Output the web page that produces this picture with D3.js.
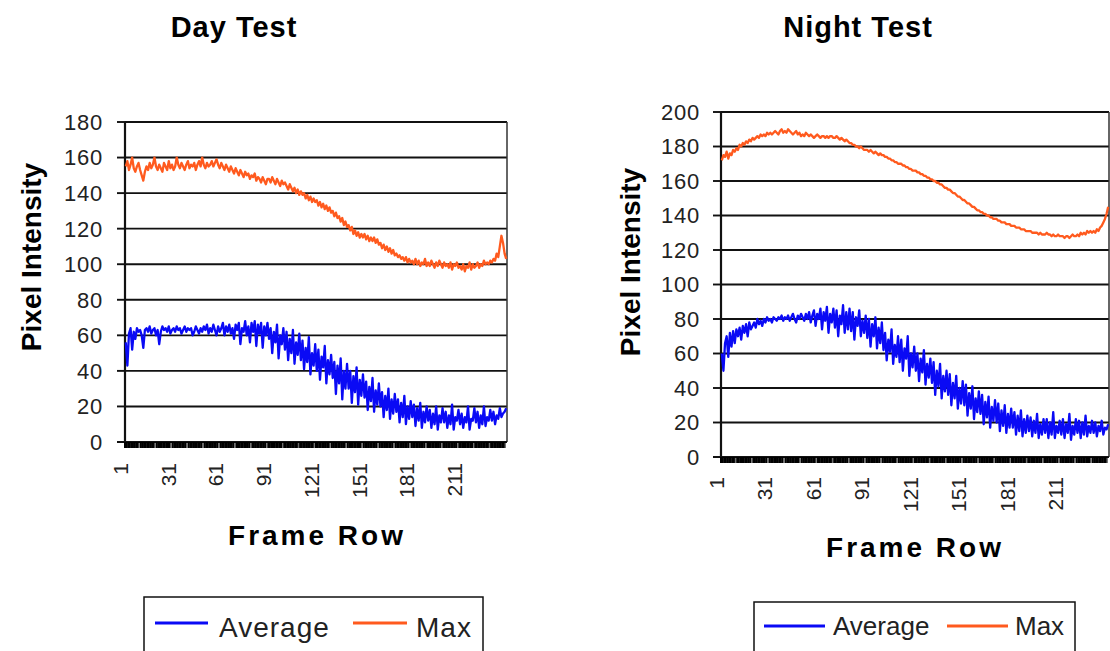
<!DOCTYPE html>
<html>
<head>
<meta charset="utf-8">
<script src="https://cdn.jsdelivr.net/npm/d3@7"></script>
<style>
  body { margin: 0; background: #fff; }
  svg { display: block; font-family: "Liberation Sans", Arial, sans-serif; }
</style>
</head>
<body>
<svg width="1110" height="651"></svg>
<script>
// frame rows 1..240 are the categories
const rows = d3.range(1, 241);
const rowLabels = [1, 31, 61, 91, 121, 151, 181, 211];
const dayTicks = [0, 20, 40, 60, 80, 100, 120, 140, 160, 180];
const nightTicks = [0, 20, 40, 60, 80, 100, 120, 140, 160, 180, 200];
const seriesNames = ["Average", "Max"];

const dayAverage = [
  56,43,61,64,52,62,58,64,62,63, 60,53,63,64,62,65,61,63,64,60,
  63,55,62,65,63,64,62,65,61,63, 64,62,65,63,64,61,63,65,62,64,
  63,64,60,62,65,63,61,64,62,65, 63,66,61,64,62,66,63,60,65,62,
  64,67,60,65,62,66,61,64,58,66, 63,67,55,64,62,68,60,65,56,67,
  62,68,54,66,61,67,53,65,60,67, 58,64,50,62,56,66,47,60,55,64,
  52,62,46,58,50,63,44,56,49,61, 46,57,41,53,45,59,38,50,43,55,
  40,52,35,48,42,54,33,46,38,49, 36,45,27,43,33,47,24,40,30,44,
  30,40,22,37,28,42,21,35,26,38, 25,34,18,31,23,36,17,29,21,33,
  20,28,14,26,18,30,13,24,16,27, 17,24,11,22,14,26,10,20,13,23,
  14,21,9,19,12,22,8,17,11,20,   12,18,8,16,10,20,7,15,11,19,
  11,17,8,15,10,21,7,14,12,18,   10,16,8,14,11,20,7,13,12,19,
  11,17,8,15,10,20,9,14,12,18,   12,17,10,15,13,19,14,16,17,19
];

const dayMax = [
  155,158,153,156,160,154,152,155,157,153, 150,147,152,155,153,157,154,156,160,155,
  153,156,154,152,157,155,153,158,154,156, 153,155,160,156,154,157,155,153,156,158,
  154,156,155,157,153,156,158,155,160,156, 154,157,155,156,158,155,157,159,156,154,
  157,155,153,156,154,152,155,153,151,154, 152,150,153,151,149,152,150,151,148,150,
  149,151,147,149,148,146,149,147,145,148, 148,146,149,147,145,148,146,144,147,145,
  146,144,142,145,143,141,143,140,142,139, 141,139,140,137,139,136,138,135,137,135,
  136,133,135,132,134,131,133,130,132,129, 130,127,129,126,127,124,126,122,124,121,
  122,119,121,117,119,116,118,115,117,115, 117,114,116,113,115,113,115,112,114,111,
  112,109,111,108,110,107,109,106,108,105, 106,104,105,103,104,102,104,101,103,101,
  102,100,103,100,102,99,101,100,103,99,   101,99,102,100,98,101,99,102,100,98,
  101,99,100,98,101,97,100,99,101,98,      99,97,100,96,99,98,101,97,100,98,
  99,101,98,100,99,102,100,101,100,102,    101,103,102,106,104,110,116,112,106,103
];

const nightAverage = [
  60,50,66,70,58,72,64,73,66,74, 70,75,68,76,72,77,70,78,74,76,
  78,75,80,77,79,76,80,78,81,79, 80,78,81,80,79,81,80,82,79,81,
  80,82,79,81,83,80,78,82,80,83, 81,79,83,80,84,78,82,85,76,83,
  80,86,74,84,79,87,72,83,78,86, 75,85,70,82,77,88,72,84,74,86,
  73,84,68,81,76,85,70,79,72,82, 69,80,64,77,70,81,63,75,66,78,
  62,72,56,68,61,74,54,65,58,70, 55,68,50,63,57,70,47,60,52,64,
  50,60,44,57,49,62,42,54,46,57, 43,55,36,50,41,54,34,47,38,50,
  36,48,30,43,34,47,28,40,31,44, 30,42,24,37,28,41,22,34,26,38,
  25,36,19,32,23,35,17,29,21,33, 20,31,15,27,18,30,14,25,17,28,
  17,26,13,24,15,27,12,22,14,24, 15,23,12,21,14,25,11,19,13,22,
  14,22,11,20,13,26,11,18,14,21, 13,22,11,19,14,25,10,18,13,22,
  14,21,11,20,13,24,12,18,14,21, 14,20,12,18,15,21,13,17,16,19
];

const nightMax = [
  172,175,174,177,173,176,175,178,177,179, 178,181,180,182,181,183,182,184,183,185,
  184,185,186,185,187,186,187,186,188,187, 188,187,188,189,188,187,189,190,188,189,
  188,190,189,188,187,188,189,187,188,186, 187,186,188,187,186,187,186,185,186,187,
  186,185,186,186,185,186,185,186,186,185, 185,186,185,184,185,184,183,184,183,182,
  182,181,181,180,180,179,180,179,178,178, 178,177,178,177,176,177,176,175,176,175,
  175,174,174,173,173,172,172,171,171,170, 170,170,169,169,168,168,167,167,166,166,
  166,165,165,164,164,163,163,162,162,161, 161,160,160,159,159,158,158,157,156,156,
  155,155,154,153,153,152,151,151,150,149, 149,148,147,147,146,145,145,144,143,143,
  142,142,141,141,140,140,139,139,138,138, 138,137,137,136,136,136,135,135,135,134,
  134,134,133,133,133,132,132,132,131,131, 131,131,130,130,130,130,129,130,129,129,
  129,130,129,129,128,129,128,128,129,128, 128,128,127,128,128,127,128,129,128,128,
  129,128,130,129,130,129,131,130,131,130, 131,130,132,131,133,134,136,138,141,145
];

const colors = { Average: "#0a0af5", Max: "#ff5a1e" };

const svg = d3.select("svg");

/**
 * Draws one test panel (plot, axes, titles, legend)
 * @param {*} p panel layout
 */
function drawPanel(p) {
  const g = svg.append("g");

  const x = d3.scaleBand().domain(rows).range([p.x0, p.x1]);
  const y = d3.scaleLinear().domain([0, p.yMax]).range([p.y0, p.y1]);

  // horizontal grid, top one works as border
  g.append("g")
    .selectAll("line")
    .data(p.ticks.filter(t => t > 0))
    .join("line")
    .attr("x1", p.x0).attr("x2", p.x1)
    .attr("y1", d => y(d)).attr("y2", d => y(d))
    .attr("stroke", "#111").attr("stroke-width", 1.9);

  // right border
  g.append("line")
    .attr("x1", p.x1).attr("x2", p.x1)
    .attr("y1", y(p.yMax)).attr("y2", p.y0)
    .attr("stroke", "#333").attr("stroke-width", 1.5);

  // y axis
  const yAxis = g.append("g");
  yAxis.append("line")
    .attr("x1", p.x0).attr("x2", p.x0)
    .attr("y1", y(p.yMax)).attr("y2", p.y0)
    .attr("stroke", "#111").attr("stroke-width", 2.2);
  yAxis.selectAll(".ytick")
    .data(p.ticks)
    .join("line")
    .attr("x1", p.x0 - 8).attr("x2", p.x0)
    .attr("y1", d => y(d)).attr("y2", d => y(d))
    .attr("stroke", "#111").attr("stroke-width", 1.9);
  yAxis.selectAll("text")
    .data(p.ticks)
    .join("text")
    .attr("x", p.labelRight)
    .attr("y", d => y(d))
    .attr("dy", "0.36em")
    .attr("text-anchor", "end")
    .attr("font-size", 22)
    .attr("letter-spacing", 0.8)
    .attr("fill", "#222")
    .text(d => d);

  // x axis with a tick on every row
  const xAxis = g.append("g");
  xAxis.append("line")
    .attr("x1", p.x0 - 8).attr("x2", p.x1)
    .attr("y1", p.y0).attr("y2", p.y0)
    .attr("stroke", "#111").attr("stroke-width", 2.2);
  xAxis.selectAll(".xtick")
    .data(rows)
    .join("line")
    .attr("x1", d => x(d)).attr("x2", d => x(d))
    .attr("y1", p.y0).attr("y2", p.y0 + 6)
    .attr("stroke", "#000").attr("stroke-width", d => (d - 1) % 10 === 9 ? 0.6 : 2);
  xAxis.selectAll("text")
    .data(rowLabels)
    .join("text")
    .attr("transform", d => `translate(${x(d) + x.bandwidth() / 2 + 2},${p.labelTop}) rotate(-90)`)
    .attr("text-anchor", "end")
    .attr("font-size", 21)
    .attr("fill", "#222")
    .text(d => d);

  // series
  const line = d3.line()
    .x((d, i) => x(rows[i]) + x.bandwidth() / 2)
    .y(d => y(d));
  [["Average", p.average], ["Max", p.max]].forEach(([name, values]) => {
    g.append("path")
      .datum(values)
      .attr("fill", "none")
      .attr("stroke", colors[name])
      .attr("stroke-width", 2.3)
      .attr("stroke-linejoin", "round")
      .attr("d", line);
  });

  // titles
  g.append("text")
    .attr("x", p.titleX).attr("y", 37)
    .attr("text-anchor", "middle")
    .attr("font-size", 29).attr("font-weight", "bold")
    .attr("letter-spacing", 1)
    .text(p.title);
  g.append("text")
    .attr("transform", `translate(${p.yTitleX},${p.yTitleY}) rotate(-90)`)
    .attr("text-anchor", "middle")
    .attr("font-size", 28).attr("font-weight", "bold")
    .text("Pixel Intensity");
  g.append("text")
    .attr("x", p.xTitleX).attr("y", p.xTitleY)
    .attr("text-anchor", "middle")
    .attr("font-size", 28).attr("font-weight", "bold")
    .attr("letter-spacing", 3)
    .text("Frame Row");

  // legend
  const lg = p.legend;
  g.append("rect")
    .attr("x", lg.x).attr("y", lg.y)
    .attr("width", lg.w).attr("height", 80)
    .attr("fill", "none").attr("stroke", "#111").attr("stroke-width", 1.5);
  seriesNames.forEach((name, i) => {
    g.append("line")
      .attr("x1", lg.lines[i][0]).attr("x2", lg.lines[i][1])
      .attr("y1", lg.lineY).attr("y2", lg.lineY)
      .attr("stroke", colors[name]).attr("stroke-width", 2.8);
    g.append("text")
      .attr("x", lg.texts[i]).attr("y", lg.textY)
      .attr("font-size", lg.fontSize)
      .attr("letter-spacing", lg.spacing)
      .attr("fill", "#222")
      .text(name);
  });
}

drawPanel({
  title: "Day Test", titleX: 234,
  x0: 125, x1: 507, y0: 442, y1: 122, yMax: 180, ticks: dayTicks,
  labelRight: 103, labelTop: 463,
  yTitleX: 41, yTitleY: 257, xTitleX: 317, xTitleY: 545,
  average: dayAverage, max: dayMax,
  legend: { x: 144, y: 597, w: 339, lineY: 623, lines: [[155, 208], [353, 407]],
            texts: [219, 416], textY: 637, fontSize: 28, spacing: 1 }
});

drawPanel({
  title: "Night Test", titleX: 858,
  x0: 721, x1: 1109, y0: 457, y1: 112, yMax: 200, ticks: nightTicks,
  labelRight: 700, labelTop: 477,
  yTitleX: 640, yTitleY: 262, xTitleX: 915, xTitleY: 557,
  average: nightAverage, max: nightMax,
  legend: { x: 754, y: 602, w: 321, lineY: 626, lines: [[764, 825], [947, 1008]],
            texts: [833, 1015], textY: 635, fontSize: 26, spacing: 0 }
});
</script>
</body>
</html>
